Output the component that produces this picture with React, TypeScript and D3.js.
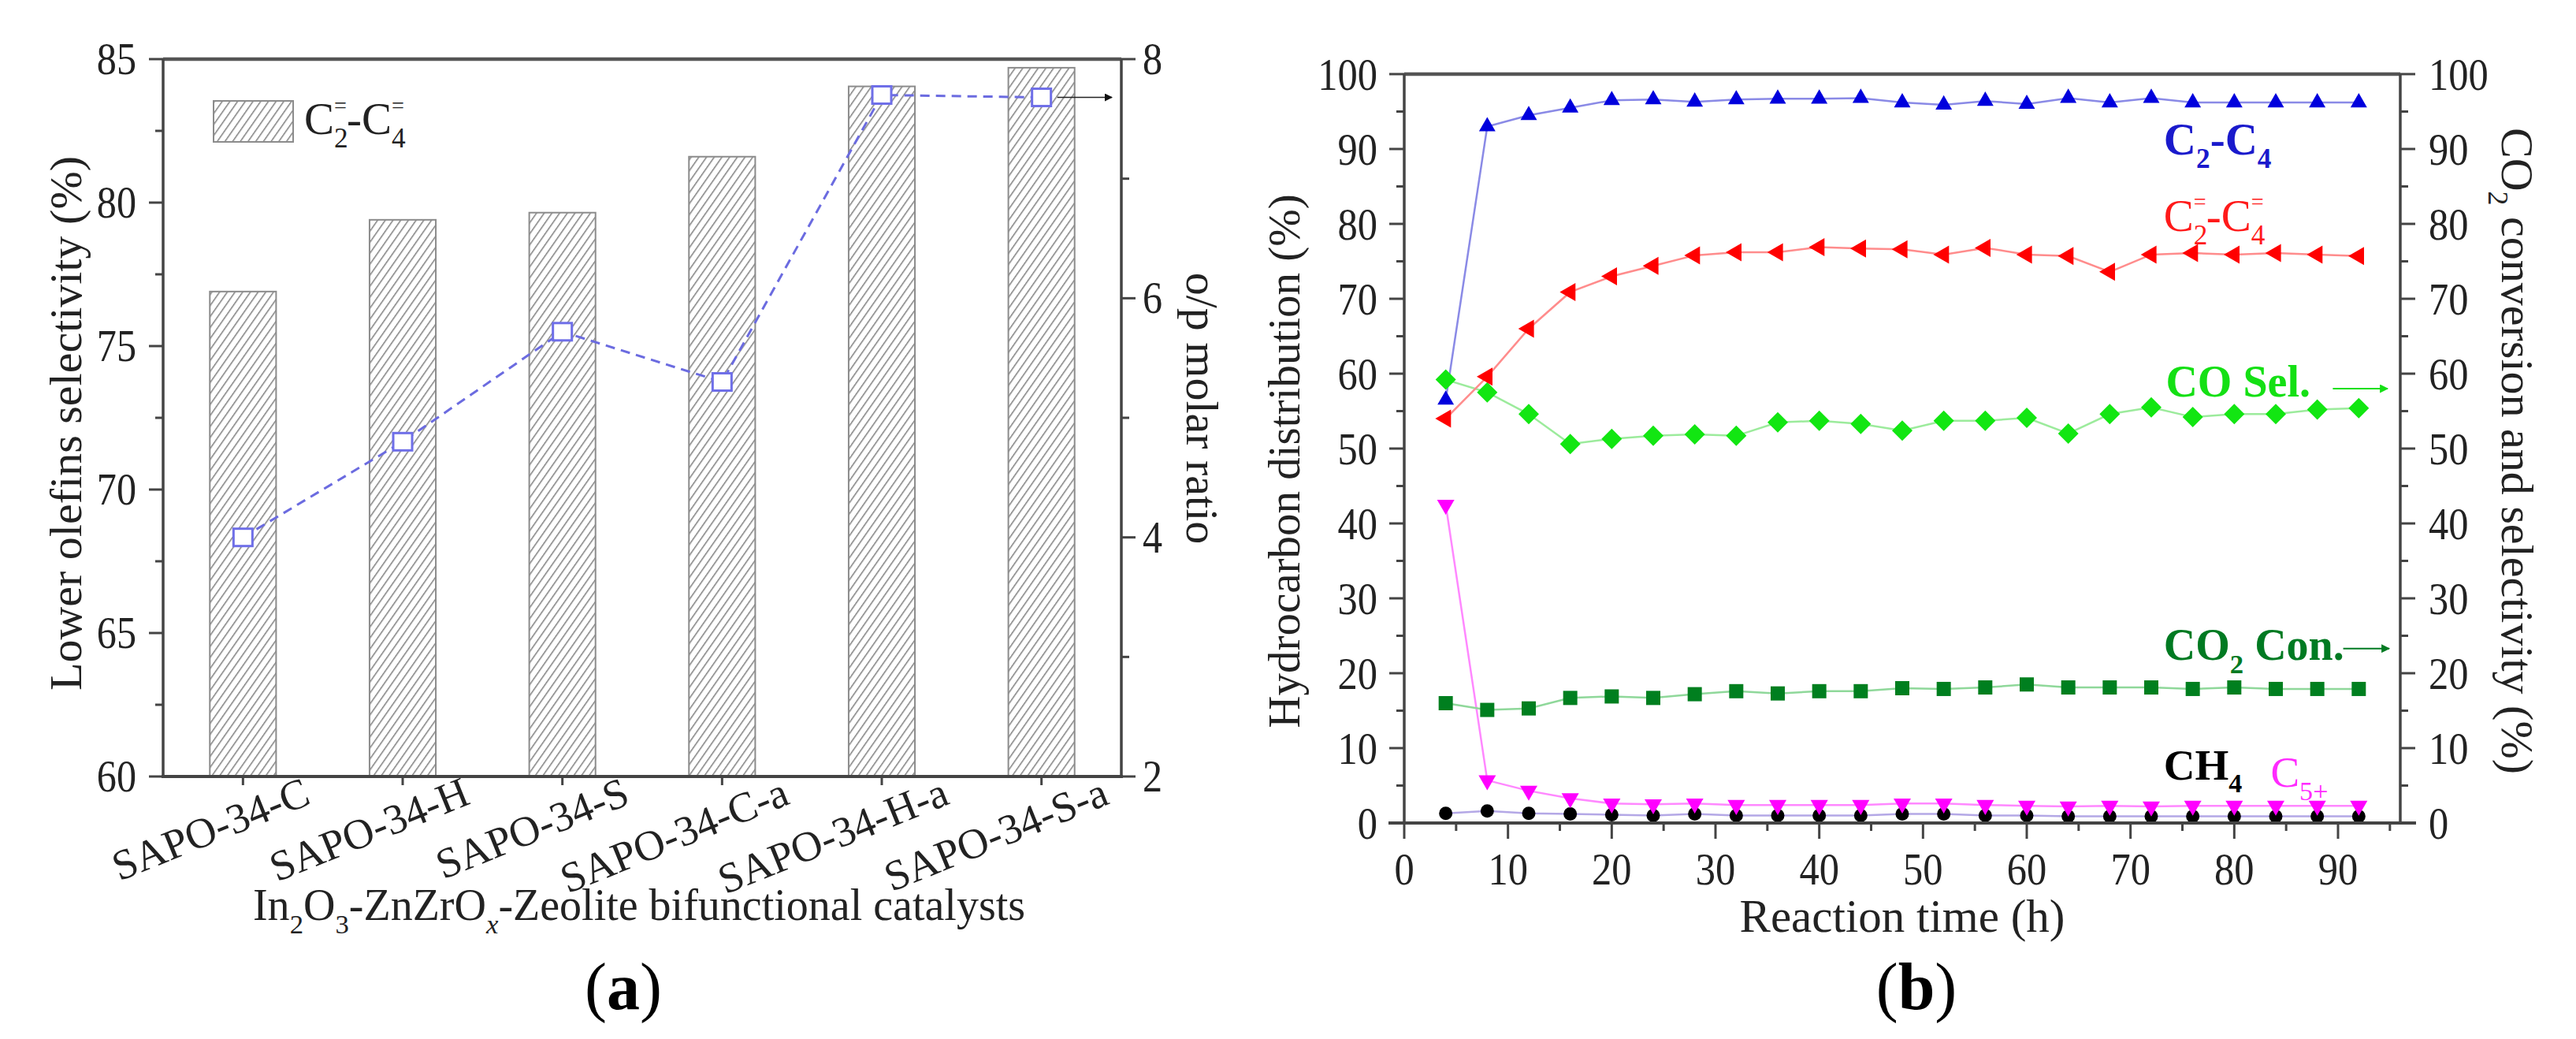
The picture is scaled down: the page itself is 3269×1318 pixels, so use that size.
import React from 'react';
import * as d3 from 'd3';

// ---- panel (a) data ----
const categories = ['SAPO-34-C', 'SAPO-34-H', 'SAPO-34-S', 'SAPO-34-C-a', 'SAPO-34-H-a', 'SAPO-34-S-a'];
const olefinSel = [76.9, 79.4, 79.65, 81.6, 84.05, 84.7];
const opRatio = [4.0, 4.8, 5.72, 5.3, 7.7, 7.68];

// ---- panel (b) data ----
const times = [4, 8, 12, 16, 20, 24, 28, 32, 36, 40, 44, 48, 52, 56, 60, 64, 68, 72, 76, 80, 84, 88, 92];
const c2c4 = [56.5, 93.0, 94.5, 95.5, 96.5, 96.6, 96.3, 96.6, 96.7, 96.7, 96.8, 96.2, 95.9, 96.4, 96.0, 96.8, 96.2, 96.8, 96.2, 96.2, 96.2, 96.2, 96.2];
const olefins = [54.0, 59.6, 66.0, 70.9, 73.0, 74.4, 75.8, 76.2, 76.2, 76.9, 76.7, 76.6, 75.9, 76.8, 75.9, 75.7, 73.6, 75.9, 76.1, 75.9, 76.1, 75.9, 75.7];
const coSel = [59.2, 57.5, 54.6, 50.6, 51.3, 51.7, 51.9, 51.7, 53.5, 53.7, 53.3, 52.4, 53.7, 53.7, 54.1, 52.0, 54.6, 55.5, 54.2, 54.6, 54.6, 55.2, 55.4];
const co2Con = [16.0, 15.1, 15.3, 16.7, 16.9, 16.7, 17.2, 17.6, 17.3, 17.6, 17.6, 18.0, 17.9, 18.1, 18.5, 18.1, 18.1, 18.1, 17.9, 18.1, 17.9, 17.9, 17.9];
const c5plus = [42.5, 5.7, 4.3, 3.3, 2.6, 2.5, 2.6, 2.4, 2.4, 2.4, 2.4, 2.6, 2.6, 2.4, 2.3, 2.2, 2.3, 2.2, 2.3, 2.3, 2.3, 2.3, 2.3];
const ch4 = [1.3, 1.6, 1.3, 1.2, 1.1, 1.0, 1.2, 1.0, 1.0, 1.0, 1.0, 1.2, 1.2, 1.0, 1.0, 0.9, 0.9, 0.9, 0.9, 0.9, 0.9, 0.9, 0.9];

const FONT = '"Liberation Serif", "Times New Roman", serif';
const INK = '#222';
const AXIS = '#444';

// scales
const ax = d3.scaleBand().domain(categories).range([207, 1423]).paddingInner(0.585).paddingOuter(0.2925);
const ayL = d3.scaleLinear().domain([60, 85]).range([985, 75]);
const ayR = d3.scaleLinear().domain([2, 8]).range([985, 75]);
const bx = d3.scaleLinear().domain([0, 96]).range([1782, 3046]);
const by = d3.scaleLinear().domain([0, 100]).range([1044, 94]);

const Txt = ({ x, y, size, anchor = 'start', sx = 1, rot = 0, fill = INK, weight = 'normal', children }: any) => (
  <text
    transform={`translate(${x},${y}) scale(${sx},1) rotate(${rot})`}
    fontSize={size}
    textAnchor={anchor}
    fill={fill}
    fontWeight={weight}
    fontFamily={FONT}
  >
    {children}
  </text>
);

// chemical label: parts of {t, sub, sup}; relative dy so text-anchor keeps one chunk
const Chem = ({ x, y, size, fill = INK, weight = 'normal', parts, anchor = 'start', rot = 0 }: any) => {
  const s = size * 0.62;
  let cur = 0;
  const items: any[] = [];
  parts.forEach((p: any, i: number) => {
    if (p.t) {
      items.push(
        <tspan key={i + 't'} dy={0 - cur}>
          {p.t}
        </tspan>
      );
      cur = 0;
    }
    if (p.sub) {
      const o = size * 0.3;
      items.push(
        <tspan key={i + 's'} dy={o - cur} fontSize={s} fontStyle={p.it ? 'italic' : 'normal'}>
          {p.sub}
        </tspan>
      );
      cur = o;
    }
    if (p.sup) {
      const o = -size * 0.48;
      items.push(
        <tspan key={i + 'p'} dy={o - cur} dx={p.sub ? -s * 0.5 * p.sub.length : 0} fontSize={s * 0.8}>
          {p.sup}
        </tspan>
      );
      cur = o;
    }
  });
  return (
    <text
      transform={`translate(${x},${y}) rotate(${rot})`}
      fontSize={size}
      fill={fill}
      fontWeight={weight}
      fontFamily={FONT}
      textAnchor={anchor}
    >
      {items}
    </text>
  );
};

const symTri = d3.symbol(d3.symbolTriangle, 190)();
const symTriL = d3.symbol(d3.symbolTriangle, 230)();
const symTriD = d3.symbol(d3.symbolTriangle, 210)();
const symSq = d3.symbol(d3.symbolSquare, 18 * 18)();
const symCirc = d3.symbol(d3.symbolCircle, Math.PI * 8.5 * 8.5)();
const diamond = 'M0,-13L13,0L0,13L-13,0Z';

const PanelA = () => {
  const bw = ax.bandwidth();
  const cx = (c: string) => (ax(c) as number) + bw / 2;
  const majL = ayL.ticks(5);
  const minL = majL.slice(0, -1).map((v) => v + 2.5);
  const majR = ayR.ticks(3);
  const minR = majR.slice(0, -1).map((v) => v + 1);
  const line = d3
    .line<number>()
    .x((_, i) => cx(categories[i]))
    .y((d) => ayR(d));
  const x0 = ax.range()[0];
  const x1 = ax.range()[1];
  const yb = ayL(60);
  const yt = ayL(85);
  return (
    <g>
      {categories.map((c, i) => (
        <rect
          key={c}
          x={ax(c)}
          y={ayL(olefinSel[i])}
          width={bw}
          height={yb - ayL(olefinSel[i])}
          fill="url(#hatch)"
          stroke="#8c8c8c"
          strokeWidth={2}
        />
      ))}
      <path d={line(opRatio) as string} fill="none" stroke="#6b6be0" strokeWidth={3} strokeDasharray="12 8" />
      {opRatio.map((v, i) => (
        <rect key={i} x={cx(categories[i]) - 12} y={ayR(v) - 11} width={24} height={22} fill="#fff" stroke="#6f6fe8" strokeWidth={3} />
      ))}
      {/* arrow to right axis */}
      <line
        x1={cx(categories[5]) + 20}
        x2={x1 - 12}
        y1={ayR(opRatio[5])}
        y2={ayR(opRatio[5])}
        stroke="#222"
        strokeWidth={1.5}
        markerEnd="url(#arrBlack)"
      />
      {/* frame */}
      <line x1={x0} x2={x1} y1={yt} y2={yt} stroke="#555" strokeWidth={4.5} />
      <line x1={x0} x2={x0} y1={yt} y2={yb} stroke={AXIS} strokeWidth={3.5} />
      <line x1={x1} x2={x1} y1={yt} y2={yb} stroke={AXIS} strokeWidth={3.5} />
      <line x1={x0 - 2} x2={x1 + 2} y1={yb} y2={yb} stroke={AXIS} strokeWidth={4} />
      {majL.map((v) => (
        <g key={'l' + v}>
          <line x1={x0 - 18} x2={x0} y1={ayL(v)} y2={ayL(v)} stroke={AXIS} strokeWidth={3} />
          <Txt x={173} y={ayL(v) + 19} size={57} sx={0.88} anchor="end">
            {v}
          </Txt>
        </g>
      ))}
      {minL.map((v) => (
        <line key={'lm' + v} x1={x0 - 10} x2={x0} y1={ayL(v)} y2={ayL(v)} stroke={AXIS} strokeWidth={3} />
      ))}
      {majR.map((v) => (
        <g key={'r' + v}>
          <line x1={x1} x2={x1 + 18} y1={ayR(v)} y2={ayR(v)} stroke={AXIS} strokeWidth={3} />
          <Txt x={1450} y={ayR(v) + 19} size={57} sx={0.88}>
            {v}
          </Txt>
        </g>
      ))}
      {minR.map((v) => (
        <line key={'rm' + v} x1={x1} x2={x1 + 10} y1={ayR(v)} y2={ayR(v)} stroke={AXIS} strokeWidth={3} />
      ))}
      {categories.map((c) => (
        <g key={'x' + c}>
          <line x1={cx(c)} x2={cx(c)} y1={yb} y2={yb + 11} stroke={AXIS} strokeWidth={3} />
          <Txt x={cx(c) + 88} y={1019} size={54} anchor="end" rot={-22}>
            {c}
          </Txt>
        </g>
      ))}
      {/* legend */}
      <rect x={271} y={128} width={101} height={52} fill="url(#hatch)" stroke="#8c8c8c" strokeWidth={2} />
      <Chem x={386} y={170} size={57} parts={[{ t: 'C', sub: '2', sup: '=' }, { t: '-C', sub: '4', sup: '=' }]} />
      {/* axis titles */}
      <Txt x={103} y={537} size={58} anchor="middle" rot={-90}>
        Lower olefins selectivity (%)
      </Txt>
      <Txt x={1506} y={518} size={58} anchor="middle" rot={90}>
        o/p molar ratio
      </Txt>
      <Chem
        x={811}
        y={1167}
        size={56}
        anchor="middle"
        parts={[
          { t: 'In', sub: '2' },
          { t: 'O', sub: '3' },
          { t: '-ZnZrO', sub: 'x', it: true },
          { t: '-Zeolite bifunctional catalysts' },
        ]}
      />
      <text x={791} y={1280} fontSize={84} textAnchor="middle" fontFamily={FONT} fill="#000">
        (<tspan fontWeight="bold">a</tspan>)
      </text>
    </g>
  );
};

const PanelB = () => {
  const x0 = bx.range()[0];
  const x1 = bx.range()[1];
  const yb = by(0);
  const yt = by(100);
  const majY = by.ticks(10);
  const minY = by.ticks(20).filter((v) => v % 10 !== 0);
  const majX = bx.ticks(10);
  const minX = bx.ticks(20).filter((v) => v % 10 !== 0);
  const mk = (vals: number[]) =>
    d3
      .line<number>()
      .x((_, i) => bx(times[i]))
      .y((d) => by(d))(vals) as string;

  const series = [
    { vals: ch4, line: '#b4a8e6', color: '#000', sym: symCirc, rot: 0 },
    { vals: c5plus, line: '#ff88ff', color: '#ff00ff', sym: symTriD, rot: 180 },
    { vals: co2Con, line: '#8fd89a', color: '#007f1f', sym: symSq, rot: 0 },
    { vals: coSel, line: '#9ceb9c', color: '#12e612', sym: diamond, rot: 0 },
    { vals: olefins, line: '#ff8c8c', color: '#ff0000', sym: symTriL, rot: -90 },
    { vals: c2c4, line: '#8a8ae6', color: '#0000dd', sym: symTri, rot: 0 },
  ];

  return (
    <g>
      {series.map((s, k) => (
        <path key={'ln' + k} d={mk(s.vals)} fill="none" stroke={s.line} strokeWidth={2.5} />
      ))}
      {series.map((s, k) =>
        s.vals.map((v, i) => (
          <path
            key={k + '-' + i}
            d={s.sym as string}
            transform={`translate(${bx(times[i])},${by(v)}) rotate(${s.rot})`}
            fill={s.color}
          />
        ))
      )}
      {/* frame */}
      <line x1={x0} x2={x1} y1={yt} y2={yt} stroke="#555" strokeWidth={4.5} />
      <line x1={x0} x2={x0} y1={yt} y2={yb} stroke={AXIS} strokeWidth={3.5} />
      <line x1={x1} x2={x1} y1={yt} y2={yb} stroke={AXIS} strokeWidth={3.5} />
      <line x1={x0 - 20} x2={x1 + 20} y1={yb} y2={yb} stroke={AXIS} strokeWidth={4} />
      {majY.map((v) => (
        <g key={'y' + v}>
          <line x1={x0 - 19} x2={x0} y1={by(v)} y2={by(v)} stroke={AXIS} strokeWidth={3} />
          <line x1={x1} x2={x1 + 19} y1={by(v)} y2={by(v)} stroke={AXIS} strokeWidth={3} />
          <Txt x={1748} y={by(v) + 20} size={58} sx={0.87} anchor="end">
            {v}
          </Txt>
          <Txt x={3082} y={by(v) + 20} size={58} sx={0.87}>
            {v}
          </Txt>
        </g>
      ))}
      {minY.map((v) => (
        <g key={'ym' + v}>
          <line x1={x0 - 10} x2={x0} y1={by(v)} y2={by(v)} stroke={AXIS} strokeWidth={3} />
          <line x1={x1} x2={x1 + 10} y1={by(v)} y2={by(v)} stroke={AXIS} strokeWidth={3} />
        </g>
      ))}
      {majX.map((v) => (
        <g key={'x' + v}>
          <line x1={bx(v)} x2={bx(v)} y1={yb} y2={yb + 20} stroke={AXIS} strokeWidth={3} />
          <Txt x={bx(v)} y={1122} size={58} sx={0.87} anchor="middle">
            {v}
          </Txt>
        </g>
      ))}
      {minX.map((v) => (
        <line key={'xm' + v} x1={bx(v)} x2={bx(v)} y1={yb} y2={yb + 10} stroke={AXIS} strokeWidth={3} />
      ))}
      {/* annotations */}
      <Chem x={bx(73.2)} y={by(89.3)} size={57} weight="bold" fill="#1a1acc" parts={[{ t: 'C', sub: '2' }, { t: '-C', sub: '4' }]} />
      <Chem
        x={bx(73.2)}
        y={by(79.1)}
        size={57}
        fill="#ff1a1a"
        parts={[{ t: 'C', sub: '2', sup: '=' }, { t: '-C', sub: '4', sup: '=' }]}
      />
      <Chem x={bx(73.4)} y={by(56.9)} size={56} weight="bold" fill="#14e014" parts={[{ t: 'CO Sel.' }]} />
      <line x1={bx(89.5)} x2={x1 - 16} y1={by(58)} y2={by(58)} stroke="#14e014" strokeWidth={2} markerEnd="url(#arrLime)" />
      <Chem x={bx(73.2)} y={by(21.8)} size={56} weight="bold" fill="#007a22" parts={[{ t: 'CO', sub: '2' }, { t: ' Con.' }]} />
      <line x1={bx(90.5)} x2={x1 - 14} y1={by(23.3)} y2={by(23.3)} stroke="#007a22" strokeWidth={2} markerEnd="url(#arrDark)" />
      <Chem x={bx(73.2)} y={by(5.8)} size={55} weight="bold" fill="#000" parts={[{ t: 'CH', sub: '4' }]} />
      <Chem x={bx(83.5)} y={by(4.8)} size={55} fill="#ff2aff" parts={[{ t: 'C', sub: '5+' }]} />
      {/* axis titles */}
      <Txt x={1649} y={585} size={57} anchor="middle" rot={-90}>
        Hydrocarbon distribution (%)
      </Txt>
      <Chem
        x={3175}
        y={572}
        size={58}
        anchor="middle"
        rot={90}
        parts={[{ t: 'CO', sub: '2' }, { t: ' conversion and selectivity (%)' }]}
      />
      <Txt x={(x0 + x1) / 2} y={1182} size={59} anchor="middle">
        Reaction time (h)
      </Txt>
      <text x={2432} y={1280} fontSize={84} textAnchor="middle" fontFamily={FONT} fill="#000">
        (<tspan fontWeight="bold">b</tspan>)
      </text>
    </g>
  );
};

const App = () => (
  <svg width={3269} height={1318} style={{ position: 'absolute', left: 0, top: 0, background: '#fff' }}>
    <defs>
      <pattern id="hatch" patternUnits="userSpaceOnUse" width={8} height={8} patternTransform="rotate(35)">
        <rect width={8} height={8} fill="#fff" />
        <line x1={0} y1={0} x2={0} y2={8} stroke="#808080" strokeWidth={3} />
      </pattern>
      <marker id="arrBlack" viewBox="0 0 10 10" refX={9} refY={5} markerWidth={14} markerHeight={10} markerUnits="userSpaceOnUse" orient="auto">
        <path d="M0,0L10,5L0,10Z" fill="#111" />
      </marker>
      <marker id="arrLime" viewBox="0 0 10 10" refX={9} refY={5} markerWidth={16} markerHeight={11} markerUnits="userSpaceOnUse" orient="auto">
        <path d="M0,0L10,5L0,10Z" fill="#14e014" />
      </marker>
      <marker id="arrDark" viewBox="0 0 10 10" refX={9} refY={5} markerWidth={16} markerHeight={11} markerUnits="userSpaceOnUse" orient="auto">
        <path d="M0,0L10,5L0,10Z" fill="#007a22" />
      </marker>
    </defs>
    <rect width={3269} height={1318} fill="#fff" />
    <PanelA />
    <PanelB />
  </svg>
);

export default App;
